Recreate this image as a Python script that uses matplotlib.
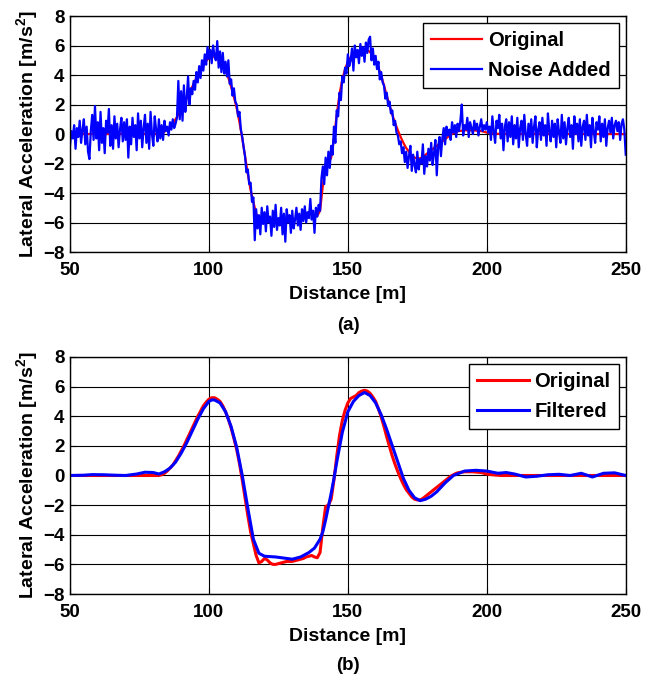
import numpy as np
import matplotlib
matplotlib.use("Agg")
import matplotlib.pyplot as plt

plt.rcParams['font.family'] = ['Liberation Sans', 'DejaVu Sans']
plt.rcParams['font.weight'] = 'bold'
plt.rcParams['mathtext.fontset'] = 'custom'
plt.rcParams['mathtext.rm'] = 'Liberation Sans:bold'
plt.rcParams['mathtext.bf'] = 'Liberation Sans:bold'
plt.rcParams['mathtext.default'] = 'bf'

# Original lateral acceleration (distance [m], value [m/s^2])
orig_x = [50, 60, 70, 80, 82, 83, 84, 85, 86, 87, 88, 89, 90, 91, 92, 93, 94, 95, 96, 97, 98, 99,
          100, 101, 102, 103, 104, 105, 106, 107, 108, 109, 110, 111, 112, 113, 114, 115, 116, 117,
          118, 119, 120, 121, 122, 123, 124, 125, 126, 127, 128, 129, 130, 131, 132, 133, 134, 135,
          136, 137, 138, 139, 140, 141, 142, 143, 144, 145, 146, 147, 148, 149, 150, 151, 152, 153,
          154, 155, 156, 157, 158, 159, 160, 161, 162, 163, 164, 165, 166, 167, 168, 169, 170, 171,
          172, 173, 174, 175, 176, 177, 178, 179, 180, 181, 182, 183, 184, 185, 186, 187, 188, 189,
          190, 192, 195, 198, 200, 202, 205, 250]
orig_y = [0, 0, 0, 0, 0, 0.05, 0.15, 0.3, 0.5, 0.7, 1.0, 1.3, 1.65, 2.0, 2.4, 2.8, 3.2, 3.6, 4.0,
          4.35, 4.7, 4.95, 5.15, 5.25, 5.25, 5.15, 5.0, 4.7, 4.3, 3.8, 3.2, 2.5, 1.75, 0.8, -0.3,
          -1.5, -2.7, -3.8, -4.6, -5.4, -5.9, -5.8, -5.6, -5.7, -5.9, -6.0, -6.0, -5.95, -5.9,
          -5.85, -5.8, -5.8, -5.8, -5.75, -5.7, -5.65, -5.6, -5.5, -5.45, -5.4, -5.5, -5.55, -5.2,
          -3.5, -2.1, -2.0, -1.6, -0.3, 1.3, 2.7, 3.7, 4.4, 4.9, 5.2, 5.3, 5.4, 5.6, 5.7, 5.75,
          5.7, 5.55, 5.3, 5.0, 4.5, 3.95, 3.3, 2.6, 1.95, 1.3, 0.75, 0.25, -0.2, -0.6, -0.95, -1.2,
          -1.45, -1.6, -1.65, -1.65, -1.55, -1.4, -1.25, -1.1, -0.95, -0.8, -0.65, -0.5, -0.35,
          -0.2, -0.05, 0.05, 0.15, 0.2, 0.25, 0.25, 0.2, 0.1, 0.05, 0.0, 0.0]

# Noise-added signal, sampled every 0.5 m from 50 m to 250 m (one row = 5 m)
noisy_start, noisy_step = 50.0, 0.5
noisy_y = [
    -0.8, 0.2, -0.3, 0.6, -1.0, 0.4, -0.2, 0.9, -0.6, 0.3,
    1.0, -0.7, 0.5, -1.2, -1.7, 0.2, 1.3, -0.4, 1.9, -0.3,
    0.8, -1.1, 1.5, -0.6, 0.4, -1.3, 0.9, 0.1, 1.7, -0.8,
    0.6, -1.0, 1.2, -0.3, 0.7, -0.9, 0.3, 1.1, -0.5, 0.8,
    -0.4, 1.0, -1.6, 0.5, -0.7, 1.1, -0.2, 0.6, -1.1, 1.4,
    -0.3, 0.9, -0.9, 0.4, 1.3, -0.6, 0.7, -1.0, 1.5, 0.0,
    -0.8, 1.2, 0.3, -0.5, 1.0, -0.3, 0.6, -0.4, 0.9, 0.2,
    0.5, -0.1, 0.8, 0.3, 1.0, 0.4, 0.7, 1.1, 3.6, 1.0,
    2.9, 0.9, 3.3, 1.5, 2.4, 3.9, 2.0, 3.1, 2.7, 3.6,
    3.0, 4.2, 3.5, 4.6, 3.8, 5.0, 4.3, 5.4, 4.7, 5.9,
    5.1, 5.7, 4.8, 6.0, 5.3, 5.0, 6.3, 4.5, 5.6, 4.2,
    5.5, 4.1, 4.9, 3.9, 5.0, 3.4, 3.7, 2.6, 3.1, 2.2,
    2.0, 1.2, 1.5, 0.3, -0.2, -0.9, -1.5, -2.6, -2.4, -3.4,
    -3.3, -4.6, -4.3, -7.2, -5.1, -6.4, -5.5, -6.8, -5.0, -6.1,
    -5.3, -6.6, -4.9, -6.0, -5.6, -6.9, -5.2, -6.3, -4.8, -6.5,
    -5.7, -6.2, -5.0, -6.8, -5.4, -7.3, -5.1, -6.0, -5.5, -6.7,
    -5.2, -6.4, -5.8, -5.0, -6.2, -5.4, -6.5, -5.1, -5.9, -4.9,
    -6.0, -5.3, -5.7, -4.4, -5.8, -5.2, -6.7, -5.0, -5.6, -4.8,
    -5.2, -3.0, -2.2, -3.4, -1.6, -2.8, -1.2, -2.3, -0.8, -1.4,
    0.5, -0.6, 1.6, 1.2, 2.8, 2.3, 3.9, 3.5, 4.5, 4.1,
    5.4, 4.6, 5.0, 5.8, 4.3, 6.0, 5.2, 5.7, 4.8, 6.1,
    5.3, 5.9, 4.9, 6.2, 5.5, 6.4, 6.6, 5.0, 5.8, 4.7,
    5.3, 4.4, 4.9, 3.7, 4.2, 3.5, 3.3, 2.4, 2.8, 1.9,
    2.2, 1.4, 1.6, 0.6, 0.9, 0.1, -0.1, -0.7, -0.5, -1.3,
    -0.9, -1.9, -1.2, -2.3, -1.5, -0.8, -2.5, -1.4, -2.1, -2.6,
    -1.2, -2.4, -1.7, -2.0, -0.7, -2.7, -1.5, -2.2, -1.0, -1.8,
    -0.6, -2.1, -1.3, -0.4, -2.8, -0.9, -0.2, -1.5, -0.3, 0.4,
    -0.7, 0.5, -0.1, 0.3, -0.4, 0.8, 0.1, 0.6, -0.2, 0.7,
    0.2, 0.9, 2.0, -0.1, 0.6, 0.3, 1.1, -0.2, 0.8, 0.4,
    0.0, 0.9, 0.3, 0.7, -0.1, 0.5, 1.0, 0.2, 0.6, 0.3,
    0.8, 0.1, 0.5, -0.4, 1.2, 0.2, -0.6, 0.9, 0.4, 1.3,
    -0.3, 0.7, -1.1, 0.5, 1.0, -0.5, 0.8, -0.2, 1.2, -0.7,
    0.6, -0.3, 1.1, -0.9, 0.4, 0.9, -0.4, 1.3, 0.0, -0.8,
    0.7, -0.2, 1.0, -0.6, 0.5, 1.2, -0.9, 0.3, 0.8, -0.4,
    1.1, -0.1, 0.6, -0.8, 1.4, 0.2, -0.5, 0.9, -0.2, 0.7,
    -0.9, 1.0, 0.1, -0.6, 1.3, -0.3, 0.8, -0.7, 0.4, 1.1,
    -0.2, 0.6, -1.0, 1.2, 0.0, 0.7, -0.5, 1.0, -0.8, 0.5,
    0.9, -0.4, 1.3, -0.1, 0.6, -0.9, 1.1, 0.2, -0.6, 0.8,
    0.3, 1.2, -0.5, 0.7, -0.2, 1.0, -0.8, 0.4, 0.9, 0.1,
    1.1, -0.3, 0.6, 0.9, 0.2, 0.8, -0.4, 0.7, 1.0, 0.3,
    -1.4]
noisy_x = noisy_start + noisy_step * np.arange(len(noisy_y))

# Filtered signal
filt_x = [50, 55, 58, 62, 66, 70, 74, 77, 80, 82, 84, 86, 88, 90, 92, 94, 96, 98, 100, 101, 102,
          104, 106, 108, 110, 112, 114, 116, 118, 120, 124, 128, 130, 133, 136, 138, 140, 141, 142,
          143, 144, 145, 146, 147, 148, 150, 152, 154, 156, 158, 160, 162, 164, 166, 168, 170, 172,
          174, 176, 178, 180, 182, 185, 188, 192, 196, 200, 204, 207, 210, 214, 218, 222, 226, 230,
          234, 238, 242, 246, 250]
filt_y = [0.0, 0.02, 0.06, 0.05, 0.02, 0.0, 0.1, 0.22, 0.2, 0.1, 0.25, 0.5, 0.9, 1.5, 2.2, 3.0,
          3.8, 4.5, 5.0, 5.1, 5.1, 4.9, 4.3, 3.3, 1.9, 0.0, -2.2, -4.3, -5.25, -5.45, -5.5, -5.6,
          -5.65, -5.5, -5.2, -4.9, -4.3, -3.8, -3.0, -2.1, -1.2, -0.2, 0.9, 1.9, 2.9, 4.3, 5.0,
          5.4, 5.6, 5.4, 4.9, 4.1, 3.1, 2.0, 0.9, -0.2, -1.0, -1.5, -1.7, -1.6, -1.4, -1.1, -0.5,
          0.0, 0.3, 0.35, 0.3, 0.15, 0.2, 0.1, -0.1, -0.05, 0.05, 0.08, 0.0, 0.15, -0.1, 0.15,
          0.18, 0.0]

xticks = [50, 100, 150, 200, 250]
yticks = [-8, -6, -4, -2, 0, 2, 4, 6, 8]
xlabel = "Distance [m]"
ylabel = r"Lateral Acceleration [m/s$^{2}$]"

fig = plt.figure(figsize=(6.62, 6.76), dpi=100)
ax1 = fig.add_axes([0.1057, 0.6272, 0.8395, 0.3491])
ax2 = fig.add_axes([0.1057, 0.1213, 0.8395, 0.3506])

TFS = 13.5
LFS = 14
GFS = 14.5

def style(ax):
    ax.set_xlim(50, 250)
    ax.set_ylim(-8, 8)
    ax.set_xticks(xticks)
    ax.set_yticks(yticks)
    ax.grid(True, color='black', linewidth=0.8, linestyle='-')
    ax.set_axisbelow(True)
    ax.tick_params(direction='in', top=True, right=True, length=4, width=0.8,
                   labelsize=TFS)
    ax.tick_params(axis='x', pad=7.5)
    ax.tick_params(axis='y', pad=4)
    for lab in ax.get_xticklabels() + ax.get_yticklabels():
        lab.set_fontweight('bold')
    for s in ax.spines.values():
        s.set_linewidth(1.0)
        s.set_color('black')
    ax.set_xlabel(xlabel, fontsize=LFS, fontweight='bold', labelpad=4.5)
    ax.set_ylabel(ylabel, fontsize=LFS, fontweight='bold', labelpad=2)

def legend(ax):
    leg = ax.legend(loc='upper right', fontsize=GFS, fancybox=False, edgecolor='black',
                    framealpha=1, borderpad=0.4, handlelength=2.55, handletextpad=0.3,
                    labelspacing=0.55, borderaxespad=0.35)
    leg.get_frame().set_linewidth(1.0)
    for t in leg.get_texts():
        t.set_fontweight('bold')

ax1.plot(orig_x, orig_y, color='red', linewidth=1.6, label='Original')
ax1.plot(noisy_x, noisy_y, color='blue', linewidth=1.6, label='Noise Added')
style(ax1)
legend(ax1)

ax2.plot(orig_x, orig_y, color='red', linewidth=2.2, label='Original')
ax2.plot(filt_x, filt_y, color='blue', linewidth=2.2, label='Filtered')
style(ax2)
legend(ax2)

fig.text(0.5257, 0.519, "(a)", ha='center', va='center', fontsize=TFS, fontweight='bold')
fig.text(0.5257, 0.0155, "(b)", ha='center', va='center', fontsize=TFS, fontweight='bold')

fig.savefig("out.png", dpi=100)
